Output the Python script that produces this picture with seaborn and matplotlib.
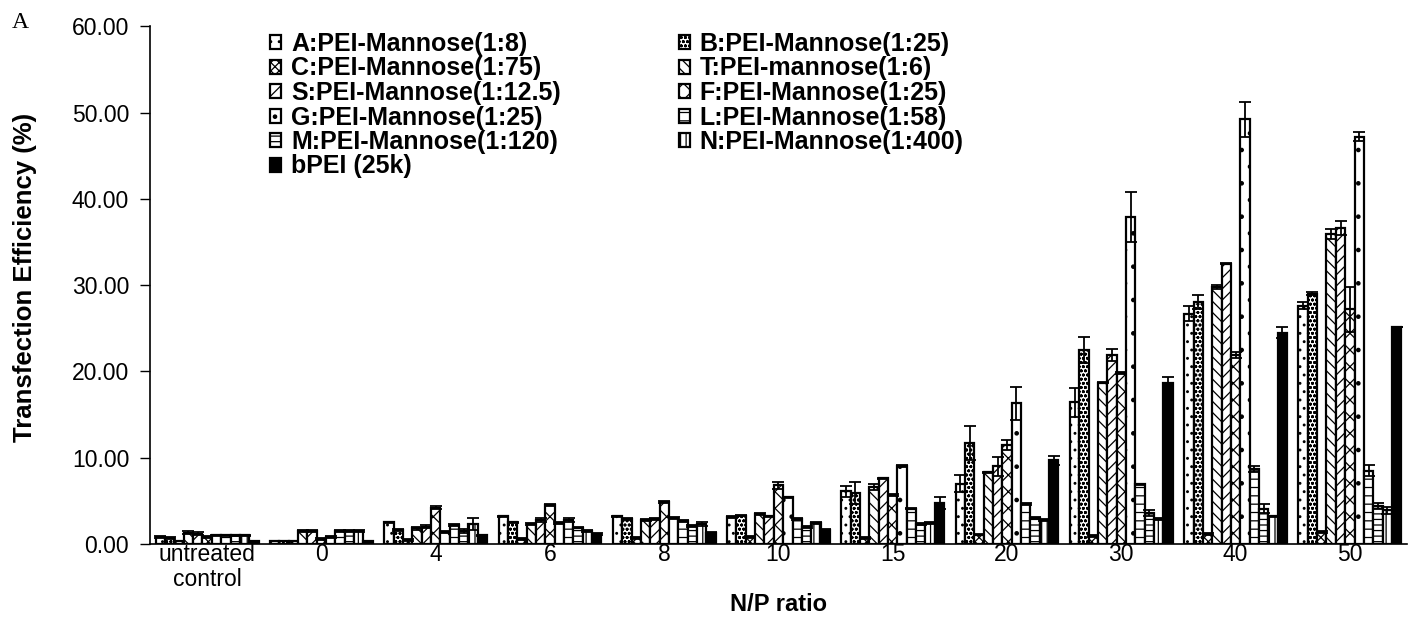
import matplotlib
matplotlib.use("Agg")
import matplotlib.pyplot as plt
import seaborn as sns
import numpy as np
import pandas as pd

groups = ["untreated\ncontrol", "0", "4", "6", "8", "10", "15", "20", "30", "40", "50"]
series = ["A:PEI-Mannose(1:8)", "B:PEI-Mannose(1:25)", "C:PEI-Mannose(1:75)",
          "T:PEI-mannose(1:6)", "S:PEI-Mannose(1:12.5)", "F:PEI-Mannose(1:25)",
          "G:PEI-Mannose(1:25)", "L:PEI-Mannose(1:58)", "M:PEI-Mannose(1:120)",
          "N:PEI-Mannose(1:400)", "bPEI (25k)"]

A_vals = [0.85, 0.4, 2.5, 3.2, 3.2, 3.1, 6.1, 7.0, 16.4, 26.7, 27.6]
B_vals = [0.7, 0.4, 1.6, 2.5, 2.9, 3.3, 5.9, 11.7, 22.5, 28.0, 29.0]
C_vals = [0.3, 0.4, 0.5, 0.6, 0.7, 0.85, 0.7, 1.1, 0.9, 1.2, 1.4]
T_vals = [1.3, 1.5, 1.8, 2.3, 2.8, 3.5, 6.6, 8.3, 18.7, 29.8, 35.9]
S_vals = [1.2, 1.5, 2.0, 2.8, 2.9, 3.2, 7.6, 9.0, 21.9, 32.5, 36.6]
F_vals = [0.85, 0.6, 4.2, 4.5, 4.9, 6.8, 5.7, 11.5, 19.8, 21.9, 27.2]
G_vals = [1.0, 0.85, 1.4, 2.4, 3.0, 5.4, 9.0, 16.3, 37.9, 49.2, 47.2]
L_vals = [1.0, 1.5, 2.2, 2.8, 2.7, 2.9, 4.1, 4.6, 6.9, 8.7, 8.5]
M_vals = [1.0, 1.5, 1.5, 1.9, 2.1, 2.0, 2.3, 3.0, 3.6, 4.1, 4.4]
N_vals = [1.0, 1.5, 2.3, 1.5, 2.3, 2.4, 2.4, 2.8, 2.9, 3.2, 3.9]
bPEI_vals = [0.4, 0.4, 1.0, 1.2, 1.3, 1.6, 4.8, 9.7, 18.6, 24.5, 25.2]

A_err = [0.1, 0.0, 0.1, 0.1, 0.1, 0.1, 0.6, 1.0, 1.7, 0.85, 0.4]
B_err = [0.1, 0.0, 0.1, 0.1, 0.1, 0.1, 1.3, 2.0, 1.5, 0.8, 0.2]
C_err = [0.0, 0.0, 0.1, 0.1, 0.1, 0.1, 0.1, 0.1, 0.1, 0.1, 0.1]
T_err = [0.15, 0.1, 0.2, 0.1, 0.1, 0.1, 0.4, 0.1, 0.1, 0.2, 0.6]
S_err = [0.15, 0.1, 0.15, 0.2, 0.1, 0.1, 0.1, 1.1, 0.7, 0.1, 0.8]
F_err = [0.1, 0.1, 0.2, 0.15, 0.1, 0.4, 0.1, 0.6, 0.1, 0.3, 2.6]
G_err = [0.1, 0.1, 0.1, 0.1, 0.1, 0.1, 0.1, 1.9, 2.9, 2.0, 0.5]
L_err = [0.1, 0.1, 0.1, 0.2, 0.1, 0.1, 0.1, 0.1, 0.1, 0.3, 0.6]
M_err = [0.1, 0.1, 0.2, 0.1, 0.1, 0.1, 0.1, 0.1, 0.3, 0.5, 0.4]
N_err = [0.1, 0.1, 0.7, 0.1, 0.2, 0.1, 0.1, 0.1, 0.1, 0.1, 0.4]
bPEI_err = [0.0, 0.0, 0.1, 0.1, 0.1, 0.1, 0.7, 0.5, 0.8, 0.6, 0.0]

all_vals = [A_vals, B_vals, C_vals, T_vals, S_vals, F_vals, G_vals, L_vals, M_vals, N_vals, bPEI_vals]
all_errs = [A_err, B_err, C_err, T_err, S_err, F_err, G_err, L_err, M_err, N_err, bPEI_err]
hatches = ["..", "oooo", "xxxx", "\\\\\\", "///", "xx", ".", "--", "---", "|||", ""]
faces = ["white"] * 10 + ["black"]

rows = []
for s, vals in zip(series, all_vals):
    for g, v in zip(groups, vals):
        rows.append({"group": g, "series": s, "value": v})
df = pd.DataFrame(rows)

sns.set_style("white")
plt.rcParams["font.family"] = ["Liberation Sans", "DejaVu Sans"]
plt.rcParams["hatch.linewidth"] = 0.9
for k in ["text.color", "axes.labelcolor", "xtick.color", "ytick.color"]:
    plt.rcParams[k] = "black"

fig = plt.figure(figsize=(14.16, 6.33), dpi=100)
ax = fig.add_axes([150 / 1416, 1 - 544 / 633, (1407 - 150) / 1416, (544 - 26.2) / 633])

sns.barplot(data=df, x="group", y="value", hue="series", order=groups, hue_order=series,
            palette=faces, width=0.9, errorbar=None, edgecolor="black", linewidth=1.6,
            ax=ax, legend=False)

handles = []
for cont, h, errs, vals, s, fc in zip(ax.containers, hatches, all_errs, all_vals, series, faces):
    xs = []
    for p in cont.patches:
        p.set_hatch(h)
        p.set_facecolor(fc)
        p.set_edgecolor("black")
        xs.append(p.get_x() + p.get_width() / 2)
    ax.errorbar(xs, vals, yerr=errs, fmt="none", ecolor="black", elinewidth=1.3,
                capsize=4, capthick=1.3, zorder=5)
    handles.append(cont.patches[0])

ax.set_xlim(-0.5, 10.5)
ax.set_ylim(0, 60)
ax.set_yticks(np.arange(0, 61, 10))
ax.set_yticklabels([f"{v:.2f}" for v in np.arange(0, 61, 10)], fontsize=16.5)
ax.set_xticks(range(len(groups)))
ax.set_xticklabels(groups, fontsize=16.5, linespacing=1.15)
ax.set_xticks(np.arange(-0.5, 11, 1), minor=True)
ax.tick_params(axis="x", which="major", length=0, pad=-1)
ax.tick_params(axis="x", which="minor", length=7, width=1, direction="out", color="black")
ax.tick_params(axis="y", which="major", length=7, width=1, direction="out", color="black", pad=8, left=True)
for side in ["top", "right"]:
    ax.spines[side].set_visible(False)
for side in ["left", "bottom"]:
    ax.spines[side].set_color("black")
    ax.spines[side].set_linewidth(1.2)

ax.set_ylabel("Transfection Efficiency (%)", fontsize=18.5, fontweight="bold")
ax.yaxis.set_label_coords(-0.09, 0.515)
ax.set_xlabel("N/P ratio", fontsize=17, fontweight="bold", labelpad=1)

# legend: row-major order in two columns
order = [0, 2, 4, 6, 8, 10, 1, 3, 5, 7, 9]
leg = fig.legend([handles[i] for i in order], [series[i] for i in order], ncol=2,
                 loc="upper left", bbox_to_anchor=(270 / 1416, 1 - 32 / 633), frameon=False,
                 prop={"weight": "bold", "size": 18}, handlelength=0.45, handleheight=0.5,
                 handletextpad=0.4, labelspacing=0.02, columnspacing=4.7, borderpad=0,
                 borderaxespad=0)

fig.text(12 / 1416, 1 - 22 / 633, "A", fontsize=17, family="Liberation Serif", va="center", ha="left")

fig.savefig("out.png", dpi=100, facecolor="white")
